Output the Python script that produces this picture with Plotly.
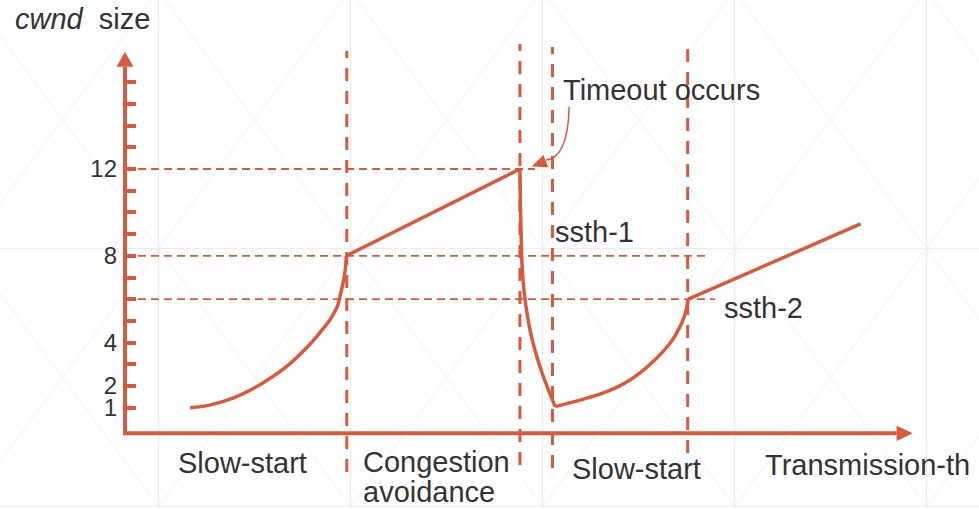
import plotly.graph_objects as go

# ---------------- data (cwnd in segments; x = transmission rounds, arbitrary units) -------------
ytick_vals = list(range(1, 17))
ytick_named = {1: "1", 2: "2", 4: "4", 8: "8", 12: "12"}

ss1_x = [3.0, 3.9, 5.0, 6.2, 7.45, 8.5, 9.3, 9.54, 9.8, 9.92, 10.05, 10.15, 10.2]
ss1_y = [1.0, 1.12, 1.45, 2.05, 2.9, 3.9, 4.85, 5.2, 5.7, 6.19, 6.75, 7.35, 8.0]
ca1_x = [10.2, 18.2]
ca1_y = [8.0, 12.0]
drop_x = [18.2, 18.25, 18.34, 18.66, 19.12, 19.82]
drop_y = [12.0, 9.2, 6.9, 4.6, 2.9, 1.05]
ss2_x = [19.82, 20.97, 22.2, 23.27, 24.33, 25.12, 25.41, 25.65, 25.83, 25.95]
ss2_y = [1.05, 1.35, 1.74, 2.28, 3.12, 3.97, 4.42, 4.89, 5.39, 6.0]
ca2_x = [25.95, 33.9]
ca2_y = [6.0, 9.47]

phase_x = [10.22, 18.2, 19.7, 25.93]
phase_top = [17.44, 17.76, 17.62, 17.76]
phase_bottom = [-1.96, -1.64, -1.78, -1.09]
level_y = [12, 8, 6]
level_end = [18.89, 26.96, 27.19]

axis_y0 = -0.18
y_arrow_base, y_arrow_tip = 16.71, 17.4
x_arrow_base, x_arrow_tip = 35.56, 36.3

# ---------------- style ----------------
W, H = 979, 509
ORANGE = "#D65A3C"
TXT = "#333333"
FONT = "Arial, Liberation Sans, sans-serif"
GRID = "#EDEDED"
DIAG = "#F1F1F1"

fig = go.Figure()

for xs, ys, shp in [(ss1_x, ss1_y, "spline"), (ca1_x, ca1_y, "linear"),
                    (drop_x, drop_y, "spline"), (ss2_x, ss2_y, "spline"),
                    (ca2_x, ca2_y, "linear")]:
    fig.add_trace(go.Scatter(x=xs, y=ys, mode="lines",
                             line=dict(color=ORANGE, width=3.5, shape=shp, smoothing=1.0),
                             hoverinfo="skip", showlegend=False))

shapes = []
# background decorative lattice (paper coords)
xs_px = [-33.5 + 192 * k for k in range(7)]
ys_px = [-9.5, 248.5, 506.5]
for xp in xs_px:
    shapes.append(dict(type="line", xref="paper", yref="paper", x0=xp / W, x1=xp / W,
                       y0=0, y1=1, line=dict(color=GRID, width=1.5), layer="below"))
for yp in ys_px:
    shapes.append(dict(type="line", xref="paper", yref="paper", x0=0, x1=1,
                       y0=1 - yp / H, y1=1 - yp / H, line=dict(color=GRID, width=1.5), layer="below"))
for i in range(len(xs_px) - 1):
    for j in range(len(ys_px) - 1):
        a, b = xs_px[i] / W, xs_px[i + 1] / W
        c, d = 1 - ys_px[j] / H, 1 - ys_px[j + 1] / H
        shapes.append(dict(type="line", xref="paper", yref="paper", x0=a, x1=b, y0=c, y1=d,
                           line=dict(color=DIAG, width=1), layer="below"))
        shapes.append(dict(type="line", xref="paper", yref="paper", x0=a, x1=b, y0=d, y1=c,
                           line=dict(color=DIAG, width=1), layer="below"))

# horizontal threshold dashed lines
for yv, xe in zip(level_y, level_end):
    shapes.append(dict(type="line", xref="x", yref="y", x0=0, x1=xe, y0=yv, y1=yv,
                       line=dict(color=ORANGE, width=1.8, dash="8px,5px"), layer="below"))
# vertical phase dashed lines
for xv, yt, yb in zip(phase_x, phase_top, phase_bottom):
    shapes.append(dict(type="line", xref="x", yref="y", x0=xv, x1=xv, y0=yb, y1=yt,
                       line=dict(color=ORANGE, width=3, dash="13px,10px"), layer="below"))
# axes
shapes.append(dict(type="line", xref="x", yref="y", x0=0, x1=0, y0=axis_y0, y1=y_arrow_base,
                   line=dict(color=ORANGE, width=4), layer="below"))
shapes.append(dict(type="line", xref="x", yref="y", x0=-0.09, x1=x_arrow_base, y0=axis_y0, y1=axis_y0,
                   line=dict(color=ORANGE, width=4), layer="below"))
shapes.append(dict(type="path", xref="x", yref="y",
                   path=f"M -0.39,{y_arrow_base} L 0,{y_arrow_tip} L 0.39,{y_arrow_base} Z",
                   fillcolor=ORANGE, line=dict(color=ORANGE, width=0)))
shapes.append(dict(type="path", xref="x", yref="y",
                   path=f"M {x_arrow_base},{axis_y0 + 0.35} L {x_arrow_tip},{axis_y0} L {x_arrow_base},{axis_y0 - 0.35} Z",
                   fillcolor=ORANGE, line=dict(color=ORANGE, width=0)))
# curved callout arrow for "Timeout occurs"
shapes.append(dict(type="path", xref="x", yref="y",
                   path="M 20.47,14.87 Q 20.41,12.51 19.4,12.41",
                   line=dict(color=ORANGE, width=1.5)))
shapes.append(dict(type="path", xref="x", yref="y",
                   path="M 18.74,12.11 L 19.28,12.65 L 19.51,12.08 Z",
                   fillcolor=ORANGE, line=dict(color=ORANGE, width=0)))

def txt(x, y, s, **kw):
    return dict(x=x, y=y, xref="x", yref="y", text=s, showarrow=False, xanchor="left",
                yanchor="middle", font=dict(family=FONT, size=29, color=TXT), **kw)

annotations = [
    txt(-5.16, 18.9, "<i>cwnd</i>\u00a0\u00a0size"),
    txt(2.33, -1.53, "Slow-start"),
    txt(10.88, -1.48, "Congestion"),
    txt(10.88, -2.9, "avoidance"),
    txt(20.5, -1.82, "Slow-start"),
    txt(29.4, -1.64, "Transmission-th"),
    txt(19.72, 9.1, "ssth-1"),
    txt(27.51, 5.58, "ssth-2"),
    txt(20.1, 15.64, "Timeout occurs"),
]

fig.update_layout(
    width=W, height=H, margin=dict(l=0, r=0, t=0, b=0),
    paper_bgcolor="white", plot_bgcolor="white", showlegend=False,
    shapes=shapes, annotations=annotations,
    xaxis=dict(range=[-5.760, 39.355], visible=False, fixedrange=True),
    yaxis=dict(range=[-3.668, 19.788], anchor="free", position=125 / W,
               showgrid=False, zeroline=False, showline=False,
               ticks="inside", ticklen=10, tickwidth=4, tickcolor=ORANGE,
               tickvals=ytick_vals, ticktext=[ytick_named.get(v, "") for v in ytick_vals],
               tickfont=dict(family=FONT, size=24, color=TXT), ticklabelstandoff=8,
               fixedrange=True),
)

fig.write_html("out.html", config={"displayModeBar": False},
               post_script="document.body.style.margin='0';document.body.style.overflow='hidden';")
